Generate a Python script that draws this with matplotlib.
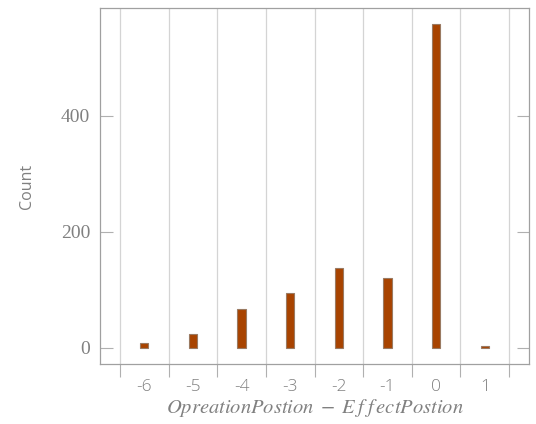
import numpy as np
import matplotlib
matplotlib.use("Agg")
import matplotlib.pyplot as plt

# offsets and their counts
offsets = [-6, -5, -4, -3, -2, -1, 0, 1]
counts = [9, 24, 68, 94, 138, 121, 559, 3]

plt.rcParams["mathtext.fontset"] = "stix"

fig = plt.figure(figsize=(5.36, 4.24), dpi=100)
ax = fig.add_axes([0.1866, 0.1415, 0.8004, 0.8395])

ax.bar(offsets, counts, width=0.17, color="#a84300", edgecolor="#9a7a62",
       linewidth=0.8, zorder=3)

ax.set_xlim(-6.91, 1.91)
ax.set_ylim(-27.6, 586)

# major ticks between bars carry grid + tick marks, labels go on minor ticks
ax.set_xticks(np.arange(-6.5, 2.0, 1.0))
ax.set_xticklabels([])
ax.set_xticks(offsets, minor=True)
ax.set_xticklabels([str(o) for o in offsets], minor=True)
ax.tick_params(axis="x", which="major", direction="out", length=9,
               color="#b0b0b0", width=0.8)
ax.tick_params(axis="x", which="minor", length=0, pad=11,
               labelsize=12.5, labelcolor="#808080")
for lab in ax.get_xticklabels(minor=True):
    lab.set_family("Open Sans")
    lab.set_fontweight("light")
ax.xaxis.grid(True, which="major", color="#d4d4d4", linewidth=0.9, zorder=0)

ax.set_yticks([0, 200, 400])
ax.tick_params(axis="y", direction="in", length=9, color="#b0b0b0",
               width=0.8, right=True, labelsize=14, labelcolor="#808080",
               pad=7)
for lab in ax.get_yticklabels():
    lab.set_family("Liberation Serif")

for s in ax.spines.values():
    s.set_color("#a0a0a0")
    s.set_linewidth(0.9)

ax.set_ylabel("Count", fontsize=11.5, color="#808080", labelpad=19,
              family="Open Sans")
ax.set_xlabel(r"$Opreation Postion\;-\;E\;f\;f\,ect Postion$", fontsize=14.8,
              color="#808080", labelpad=1)

fig.savefig("out.png", dpi=100)
